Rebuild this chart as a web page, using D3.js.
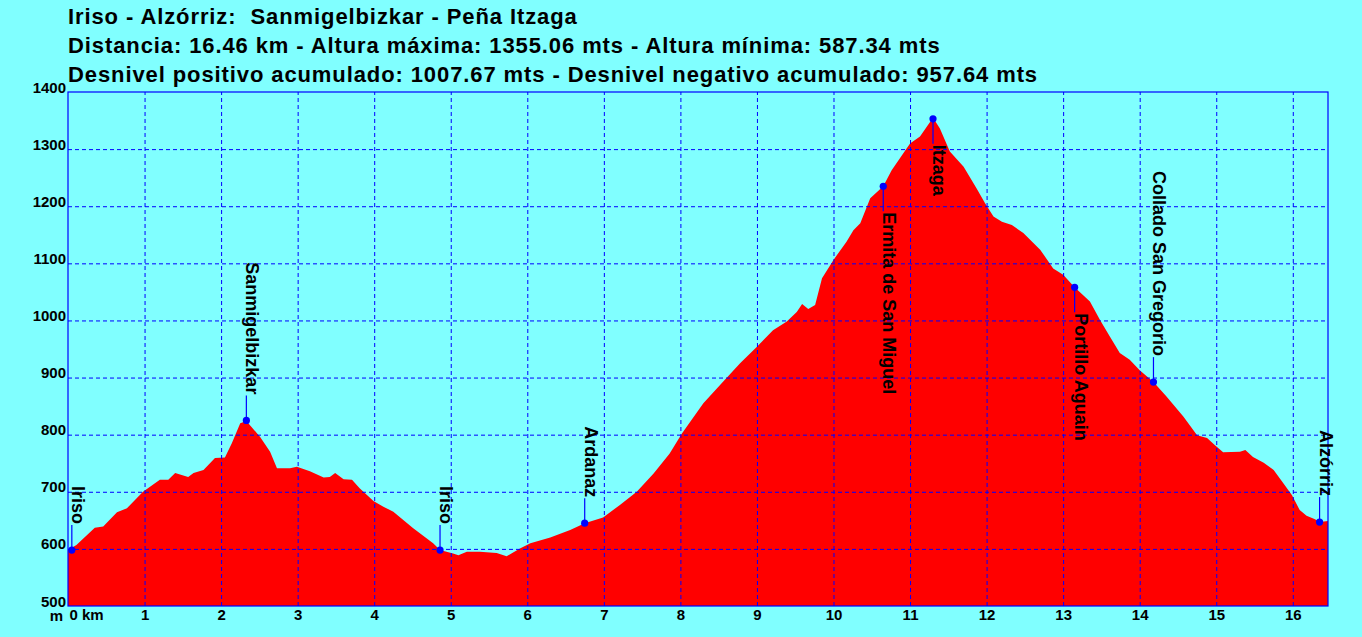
<!DOCTYPE html>
<html>
<head>
<meta charset="utf-8">
<script src="https://cdn.jsdelivr.net/npm/d3@7"></script>
<style>
  body { margin: 0; background: #80ffff; }
  svg { display: block; font-family: Arial, "Liberation Sans", sans-serif; font-weight: bold; }
</style>
</head>
<body>
<div id="profile"></div>
<script>
// DATA
const titleLines = [
    "Iriso - Alzórriz:  Sanmigelbizkar - Peña Itzaga",
    "Distancia: 16.46 km - Altura máxima: 1355.06 mts - Altura mínima: 587.34 mts",
    "Desnivel positivo acumulado: 1007.67 mts - Desnivel negativo acumulado: 957.64 mts"
];

// profile (km / metres)
const distKm = [0, 0.11, 0.35, 0.46, 0.64, 0.77, 0.98, 1.20, 1.31, 1.40,
    1.57, 1.64, 1.77, 1.92, 2.05, 2.14, 2.25, 2.33, 2.51, 2.64,
    2.73, 2.90, 2.99, 3.16, 3.34, 3.42, 3.49, 3.60, 3.71, 3.81,
    3.99, 4.12, 4.25, 4.51, 4.77, 4.86, 5.03, 5.10, 5.21, 5.38,
    5.60, 5.73, 5.91, 6.04, 6.30, 6.56, 6.75, 6.99, 7.21, 7.43,
    7.65, 7.86, 8.02, 8.30, 8.56, 8.78, 9.00, 9.21, 9.39, 9.52,
    9.59, 9.67, 9.76, 9.85, 10.00, 10.17, 10.26, 10.35, 10.48, 10.65,
    10.76, 11.00, 11.13, 11.30, 11.39, 11.52, 11.70, 11.87, 11.98, 12.09,
    12.20, 12.33, 12.48, 12.70, 12.87, 13.00, 13.15, 13.35, 13.48, 13.61,
    13.74, 13.87, 14.00, 14.18, 14.35, 14.57, 14.75, 14.88, 14.98, 15.09,
    15.31, 15.38, 15.48, 15.62, 15.75, 15.86, 15.99, 16.09, 16.18, 16.29,
    16.35, 16.46];
const elevM = [598, 607, 637, 639, 664, 671, 700, 721, 721, 733,
    726, 733, 738, 759, 760, 785, 820, 824, 796, 770,
    741, 741, 744, 736, 725, 726, 733, 722, 721, 706,
    684, 674, 665, 636, 610, 598, 592, 589, 595, 595,
    593, 587, 601, 610, 620, 633, 645, 655, 677, 700,
    732, 767, 802, 855, 893, 925, 954, 983, 998, 1015,
    1029, 1020, 1027, 1074, 1106, 1138, 1158, 1170, 1214, 1235,
    1263, 1310, 1322, 1355, 1336, 1296, 1269, 1231, 1205, 1182,
    1173, 1167, 1153, 1124, 1091, 1080, 1058, 1033, 1001, 972,
    943, 931, 913, 892, 867, 832, 799, 794, 782, 769,
    770, 773, 761, 751, 738, 718, 694, 668, 658, 652,
    647, 649];

// waypoints
const wpNames = ["Iriso", "Sanmigelbizkar", "Iriso", "Ardanaz", "Ermita de San Miguel",
    "Itzaga", "Portillo Aguain", "Collado San Gregorio", "Alzórriz"];
const wpKm = [0.05, 2.33, 4.86, 6.75, 10.65, 11.30, 13.15, 14.18, 16.35];
const wpElev = [598, 825, 598, 645, 1235, 1353, 1058, 892, 647];
const wpSide = ["up", "up", "up", "up", "down", "down", "down", "up", "up"];

const kmTicks = [0, 1, 2, 3, 4, 5, 6, 7, 8, 9, 10, 11, 12, 13, 14, 15, 16];
const elevTicks = [500, 600, 700, 800, 900, 1000, 1100, 1200, 1300, 1400];

// 1: LAYOUT
const margin = { top: 92, right: 34, bottom: 31, left: 68 };
const width = 1362 - margin.left - margin.right;
const height = 637 - margin.top - margin.bottom;

const svgRoot = d3.select("#profile")
    .append("svg")
    .attr("width", 1362)
    .attr("height", 637);

// title block
svgRoot.selectAll("text.title")
    .data(titleLines)
    .enter()
    .append("text")
    .attr("class", "title")
    .attr("x", 68)
    .attr("y", (d, i) => 24 + i * 29)
    .style("font-size", "22px")
    .style("letter-spacing", "0.9px")
    .style("white-space", "pre")
    .attr("fill", "#000")
    .text(d => d);

const svg = svgRoot.append("g")
    .attr("transform", `translate(${margin.left},${margin.top})`);

// 2: SCALES
const xScale = d3.scaleLinear().domain([0, 16.46]).range([0, width]);
const yScale = d3.scaleLinear().domain([500, 1400]).range([height, 0]);

const profile = distKm.map((km, i) => ({ km, elev: elevM[i] }));

// 3: PROFILE AREA
const area = d3.area()
    .x(d => xScale(d.km))
    .y0(height)
    .y1(d => yScale(d.elev));

svg.append("path")
    .datum(profile)
    .attr("d", area)
    .attr("fill", "#ff0000");

// 4: GRID (on top of the fill)
const xGrid = svg.append("g")
    .attr("transform", `translate(0,${height})`)
    .call(d3.axisBottom(xScale).tickValues(kmTicks.slice(1)).tickSize(-height).tickFormat(""));
const yGrid = svg.append("g")
    .call(d3.axisLeft(yScale).tickValues(elevTicks.slice(1, -1)).tickSize(-width).tickFormat(""));
[xGrid, yGrid].forEach(g => {
    g.select(".domain").remove();
    g.selectAll("line")
        .attr("stroke", "#0000ff")
        .attr("stroke-width", 1)
        .attr("stroke-dasharray", "4,3");
});

// frame
svg.append("rect")
    .attr("x", 0).attr("y", 0)
    .attr("width", width).attr("height", height)
    .attr("fill", "none")
    .attr("stroke", "#0000ff")
    .attr("stroke-width", 1.2);

// 5: AXIS LABELS
const yAxis = svg.append("g")
    .call(d3.axisLeft(yScale).tickValues(elevTicks).tickSize(0).tickPadding(2)
        .tickFormat(d3.format("d")));
yAxis.select(".domain").remove();
yAxis.selectAll("text")
    .attr("dy", "0")
    .style("font-size", "15px")
    .attr("fill", "#000");

const xAxis = svg.append("g")
    .attr("transform", `translate(0,${height})`)
    .call(d3.axisBottom(xScale).tickValues(kmTicks).tickSize(0).tickPadding(3)
        .tickFormat(d => d === 0 ? "0 km" : d));
xAxis.select(".domain").remove();
xAxis.selectAll("text")
    .style("font-size", "15px")
    .attr("fill", "#000");
xAxis.selectAll(".tick")
    .filter(d => d === 0)
    .select("text")
    .attr("text-anchor", "start")
    .attr("x", 1);

svg.append("text")
    .attr("x", -5)
    .attr("y", height + 15)
    .attr("text-anchor", "end")
    .style("font-size", "15px")
    .attr("fill", "#000")
    .text("m");

// 6: WAYPOINTS
const stem = 25;
const wp = wpNames.map((name, i) => ({ name, km: wpKm[i], elev: wpElev[i], side: wpSide[i] }));

const wpG = svg.selectAll("g.wp")
    .data(wp)
    .enter()
    .append("g")
    .attr("class", "wp")
    .attr("transform", d => `translate(${xScale(d.km)},${yScale(d.elev)})`);

wpG.append("line")
    .attr("x1", 0).attr("x2", 0)
    .attr("y1", 0)
    .attr("y2", d => d.side === "up" ? -stem : stem)
    .attr("stroke", "#0000ff")
    .attr("stroke-width", 1.2);

wpG.append("circle")
    .attr("r", 3.6)
    .attr("fill", "#0000ff");

wpG.append("text")
    .attr("transform", d => `translate(0,${d.side === "up" ? -stem - 1 : stem + 1}) rotate(90)`)
    .attr("text-anchor", d => d.side === "up" ? "end" : "start")
    .style("font-size", "18px")
    .attr("fill", "#000")
    .text(d => d.name);
</script>
</body>
</html>
